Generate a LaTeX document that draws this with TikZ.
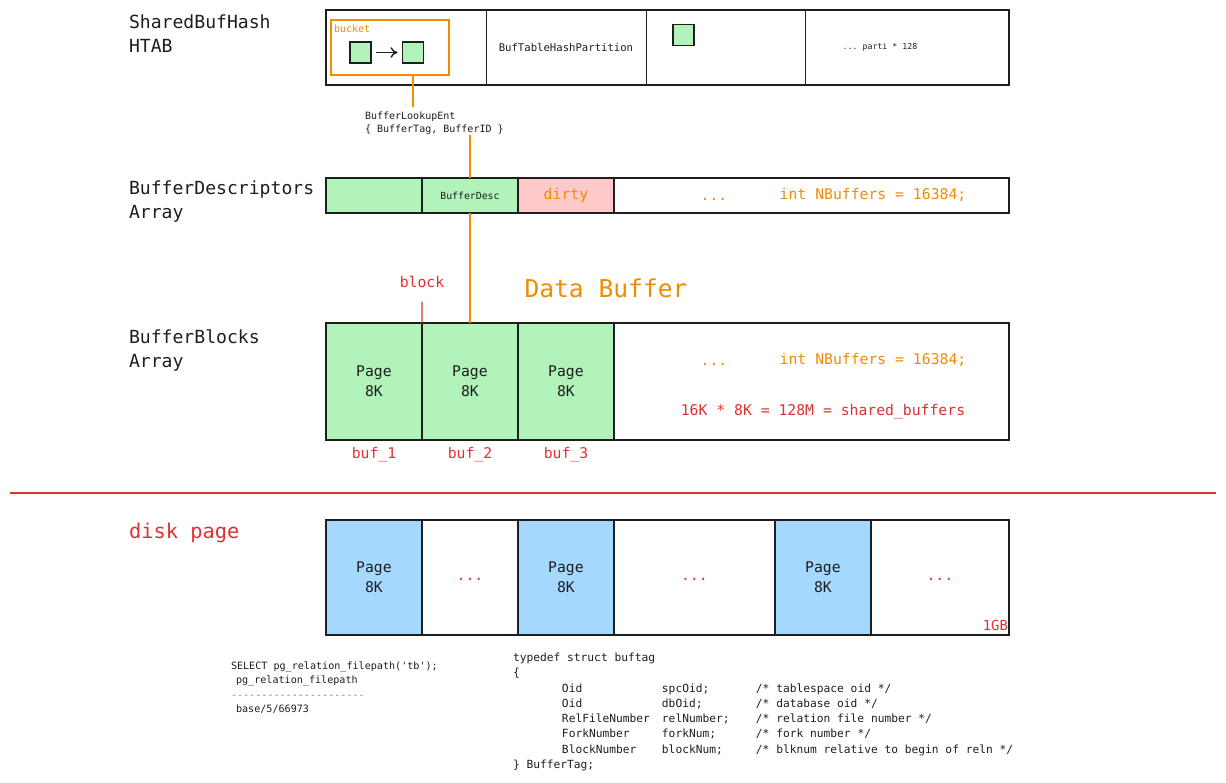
\documentclass[tikz,border=0pt]{standalone}
\usepackage{fontspec}
\setmonofont{DejaVu Sans Mono}
\renewcommand{\familydefault}{\ttdefault}
\usetikzlibrary{arrows.meta,positioning}
\definecolor{ink}{HTML}{1E1E1E}
\definecolor{bufgreen}{HTML}{B2F2BB}
\definecolor{dirtyred}{HTML}{FFC9C9}
\definecolor{diskblue}{HTML}{A5D8FF}
\definecolor{xorange}{HTML}{F08C00}
\definecolor{xred}{HTML}{E03131}
\newcommand{\fsz}[2]{\fontsize{#1}{#2}\selectfont}
\newcommand{\codeln}[3]{\hspace*{0.98cm}\makebox[2cm][l]{#1}\makebox[1.88cm][l]{#2}#3}
\newcommand{\lowdots}{\raisebox{-3pt}{...}}

\begin{document}
\begin{tikzpicture}[x=0.02cm,y=-0.02cm,inner sep=0pt,outer sep=0pt,
                    text=ink,node distance=0pt]
  \tikzstyle{lbl}=[anchor=west,align=left,font=\fsz{10.3}{13.7}]
  \tikzstyle{cell}=[draw=ink,line width=1pt,minimum width=1.92cm,align=center]
  \tikzstyle{hcell}=[draw=ink,line width=0.5pt,minimum width=3.2cm,minimum height=1.5cm,font=\fsz{6.05}{7}]
  \tikzstyle{dcell}=[cell,minimum height=0.7cm]
  \tikzstyle{bcell}=[cell,minimum height=2.34cm,font=\fsz{8.4}{11.4}]
  \tikzstyle{kcell}=[cell,minimum height=2.3cm,font=\fsz{8.4}{11.4}]
  \tikzstyle{sq}=[draw=ink,fill=bufgreen,line width=0.8pt,minimum size=0.42cm]
  \tikzstyle{orangetxt}=[text=xorange,font=\fsz{8.4}{10}]
  \tikzstyle{redtxt}=[text=xred,font=\fsz{8.4}{10}]
  \tikzstyle{orangeline}=[draw=xorange,line width=1pt]
  \tikzstyle{redline}=[draw=xred,line width=0.8pt]

  \useasboundingbox (0,0) rectangle (1226,783);

  % row labels
  \node[lbl] (htab)  at (129,34)    {SharedBufHash\\HTAB};
  \node[lbl] (descs) at (129,201.5) {BufferDescriptors\\Array};
  \node[lbl] (blks)  at (129,350.5) {BufferBlocks\\Array};
  \node[lbl,text=xred,font=\fsz{11.6}{14}] (disk) at (129,533) {disk page};

  % hash table
  \node[hcell,anchor=north west] (h1) at (326,10) {};
  \node[hcell] (h2) [right=of h1] {BufTableHashPartition};
  \node[hcell] (h3) [right=of h2] {};
  \node[hcell,minimum width=4.06cm] (h4) [right=of h3] {};
  \draw[ink,line width=1.1pt] (h1.north west) rectangle (h4.south east);
  \node[font=\fsz{4.7}{6}] (parti) at (880,47) {... parti * 128};

  \node[draw=xorange,line width=0.9pt,minimum width=2.36cm,minimum height=1.1cm,
        anchor=north west] (bucket) at (331,20) {};
  \node[anchor=west,text=xorange,font=\fsz{5.7}{7}] (bucketlbl) at (334,29) {bucket};
  \node[sq] (e1) at (360.5,52.5) {};
  \node[sq] (e2) at (413,52.5) {};
  \node[sq] (e3) at (683.5,35) {};
  \draw[-{To[length=4pt,width=6pt]},ink,line width=0.8pt,shorten <=0.1cm,shorten >=0.1cm]
        (e1) -- (e2);

  \node[anchor=west,align=left,font=\fsz{5.7}{7.4}] (lookup) at (365,123.5)
        {BufferLookupEnt\\\{ BufferTag, BufferID \}};

  % descriptors
  \node[dcell,fill=bufgreen,anchor=north west] (d1) at (326,178) {};
  \node[dcell,fill=bufgreen,font=\fsz{5.6}{7}] (d2) [right=of d1] {BufferDesc};
  \node[dcell,fill=dirtyred,text=xorange,font=\fsz{8.4}{10}] (d3) [right=of d2] {dirty};
  \node[dcell,minimum width=7.9cm] (d4) [right=of d3] {};
  \node[orangetxt] (ddots) at (714,199) {...};
  \node[orangetxt] (dnum)  at (873,195) {int NBuffers = 16384;};

  \draw[orangeline] (bucket.south -| e2) -- ([yshift=0.1cm]lookup.north -| e2);
  \draw[orangeline] (lookup.south -| d2) -- (d2.north);

  % buffer blocks
  \node[orangetxt,font=\fsz{14}{16}] (databuf) at (606,288) {Data Buffer};
  \node[redtxt] (blocklbl) at (422,282) {block};
  \node[bcell,fill=bufgreen,anchor=north west] (b1) at (326,323) {Page\\8K};
  \node[bcell,fill=bufgreen] (b2) [right=of b1] {Page\\8K};
  \node[bcell,fill=bufgreen] (b3) [right=of b2] {Page\\8K};
  \node[bcell,minimum width=7.9cm] (b4) [right=of b3] {};
  \node[orangetxt] (bdots) at (714,364) {...};
  \node[orangetxt] (bnum)  at (873,360) {int NBuffers = 16384;};
  \node[redtxt] (shbuf) at (823,412) {16K * 8K = 128M = shared\_buffers};
  \draw[orangeline] (d2.south) -- (b2.north);
  \draw[redline] ([yshift=-0.28cm]blocklbl.south) -- (b1.north east);

  \node[redtxt] (buf1) at (374,455) {buf\_1};
  \node[redtxt] (buf2) at (470,455) {buf\_2};
  \node[redtxt] (buf3) at (566,455) {buf\_3};

  % memory / disk
  \coordinate (sepL) at (10,493);
  \coordinate (sepR) at (1216,493);
  \draw[xred,line width=0.6pt] (sepL) -- (sepR);

  % disk pages
  \node[kcell,fill=diskblue,anchor=north west] (k1) at (326,520) {Page\\8K};
  \node[kcell,text=xred] (k2) [right=of k1] {\lowdots};
  \node[kcell,fill=diskblue] (k3) [right=of k2] {Page\\8K};
  \node[kcell,text=xred,minimum width=3.22cm] (k4) [right=of k3] {\lowdots};
  \node[kcell,fill=diskblue] (k5) [right=of k4] {Page\\8K};
  \node[kcell,text=xred,minimum width=2.76cm] (k6) [right=of k5] {\lowdots};
  \node[redtxt,font=\fsz{7.9}{9},anchor=south east] (gb) at ([shift={(-1,-4)}]k6.south east) {1GB};

  % code
  \node[anchor=north west,align=left,font=\fsz{5.75}{8.1}] (sql) at (231,662)
        {SELECT pg\_relation\_filepath('tb');\\
         \hspace*{0.5em}pg\_relation\_filepath\\
         \textcolor{gray}{----------------------}\\
         \hspace*{0.5em}base/5/66973};
  \node[anchor=north west,align=left,font=\fsz{6.4}{8.7}] (code) at (513,653)
        {typedef struct buftag\\
         \{\\
         \codeln{Oid}{spcOid;}{/* tablespace oid */}\\
         \codeln{Oid}{dbOid;}{/* database oid */}\\
         \codeln{RelFileNumber}{relNumber;}{/* relation file number */}\\
         \codeln{ForkNumber}{forkNum;}{/* fork number */}\\
         \codeln{BlockNumber}{blockNum;}{/* blknum relative to begin of reln */}\\
         \} BufferTag;};
\end{tikzpicture}
\end{document}
